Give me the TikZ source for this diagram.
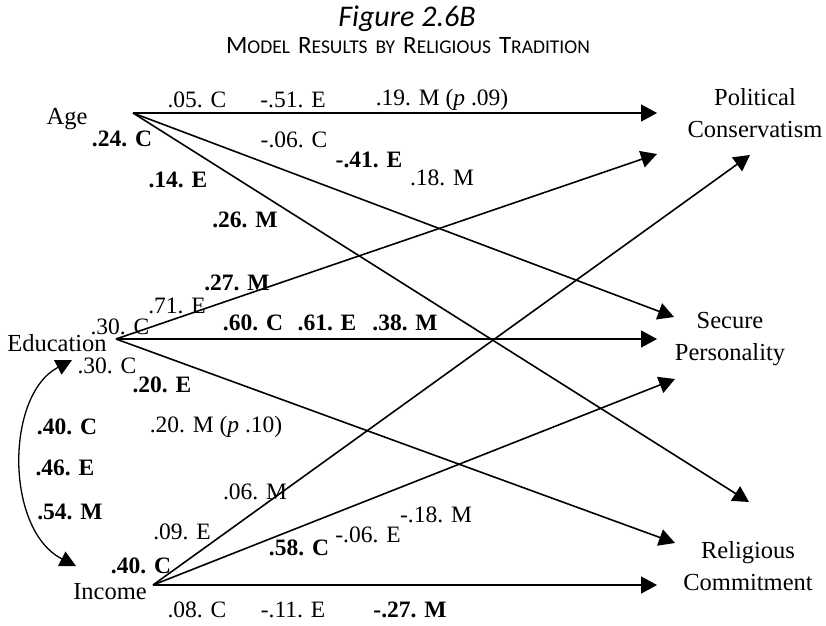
\documentclass[tikz,border=0pt]{standalone}
\usepackage{fontspec}
\setmainfont{Liberation Serif}
\newfontfamily\titlefont{Carlito}
\usetikzlibrary{arrows.meta, positioning}

\newcommand{\fakesc}[2]{{\fontsize{25}{26}\selectfont #1}{\fontsize{19.5}{26}\selectfont #2}}

\begin{document}
\begin{tikzpicture}[x=1pt, y=-1pt,
                var/.style={align=center, inner sep=0pt, font=\fontsize{24.5}{32}\selectfont},
                coef/.style={inner sep=0pt, font=\fontsize{23.5}{28}\selectfont},
                bcoef/.style={inner sep=0pt, font=\fontsize{23.5}{28}\selectfont\bfseries},
                arrow/.style={-{Triangle[length=16pt, width=17pt]}, line width=1.6pt},
                corr/.style={{Triangle[length=16pt, width=16pt]}-{Triangle[length=16pt, width=16pt]}, line width=1.3pt}]

                \useasboundingbox (0,0) rectangle (826,625);

                % Title
                \node[font=\titlefont\itshape\fontsize{30}{32}\selectfont] (title) at (407,19) {Figure 2.6B};
                \node[font=\titlefont] (subtitle) at (408,46)
                    {\fakesc{M}{ODEL}\hspace{8pt}\fakesc{R}{ESULTS}\hspace{8pt}\fakesc{}{BY}\hspace{8pt}\fakesc{R}{ELIGIOUS}\hspace{8pt}\fakesc{T}{RADITION}};

                % Variables
                \node[var] (age) at (67,119) {Age};
                \node[var] (edu) at (57,343) {Education};
                \node[var] (inc) at (110,592) {Income};
                \node[var] (pol) at (755,113) {Political\\Conservatism};
                \node[var] (sec) at (730,339) {Secure\\Personality};
                \node[var] (rel) at (748,566) {Religious\\Commitment};

                % Path ends
                \coordinate (age-o) at (133,113);
                \coordinate (edu-o) at (116,339);
                \coordinate (inc-o) at (153,585);
                \coordinate (pol-a) at (657,113);
                \coordinate (pol-e) at (657,154);
                \coordinate (pol-i) at (750,155);
                \coordinate (sec-a) at (674,317);
                \coordinate (sec-e) at (657,339);
                \coordinate (sec-i) at (675,379);
                \coordinate (rel-a) at (749,502);
                \coordinate (rel-e) at (675,543);
                \coordinate (rel-i) at (657,585);
                \coordinate (edu-c) at (72,360);
                \coordinate (inc-c) at (76,566);

                % Paths
                \draw[arrow] (age-o) -- (pol-a);
                \draw[arrow] (age-o) -- (sec-a);
                \draw[arrow] (age-o) -- (rel-a);
                \draw[arrow] (edu-o) -- (pol-e);
                \draw[arrow] (edu-o) -- (sec-e);
                \draw[arrow] (edu-o) -- (rel-e);
                \draw[arrow] (inc-o) -- (pol-i);
                \draw[arrow] (inc-o) -- (sec-i);
                \draw[arrow] (inc-o) -- (rel-i);
                \draw[corr] (edu-c) .. controls (5,395) and (5,530) .. (inc-c);

                % Coefficients from Age
                \node[coef] (a1) at (197,100) {.05. C};
                \node[coef] (a2) at (293,100) {-.51. E};
                \node[coef] (a3) at (442,100) {.19. M (\textit{p} .09)};
                \node[bcoef] (a4) at (122,139) {.24. C};
                \node[coef] (a5) at (294,140) {-.06. C};
                \node[bcoef] (a6) at (369,160) {-.41. E};
                \node[coef] (a7) at (442,178) {.18. M};
                \node[bcoef] (a8) at (178,180) {.14. E};
                \node[bcoef] (a9) at (245,220) {.26. M};

                % Coefficients from Education
                \node[bcoef] (e1) at (237,283) {.27. M};
                \node[coef] (e2) at (177,306) {.71. E};
                \node[coef] (e3) at (120,327) {.30. C};
                \node[bcoef] (e4) at (253,323) {.60. C};
                \node[bcoef] (e5) at (327,323) {.61. E};
                \node[bcoef] (e6) at (405,323) {.38. M};
                \node[coef] (e7) at (107,366) {.30. C};
                \node[bcoef] (e8) at (162,385) {.20. E};
                \node[coef] (e9) at (216,427) {.20. M (\textit{p} .10)};

                % Correlations
                \node[bcoef] (c1) at (67,427) {.40. C};
                \node[bcoef] (c2) at (65,468) {.46. E};
                \node[bcoef] (c3) at (70,512) {.54. M};

                % Coefficients from Income
                \node[coef] (i1) at (255,492) {.06. M};
                \node[coef] (i2) at (182,532) {.09. E};
                \node[bcoef] (i3) at (299,548) {.58. C};
                \node[coef] (i4) at (368,535) {-.06. E};
                \node[coef] (i5) at (436,515) {-.18. M};
                \node[bcoef] (i6) at (141,566) {.40. C};
                \node[coef] (i7) at (197,610) {.08. C};
                \node[coef] (i8) at (293,610) {-.11. E};
                \node[bcoef] (i9) at (410,610) {-.27. M};
            \end{tikzpicture}
\end{document}
